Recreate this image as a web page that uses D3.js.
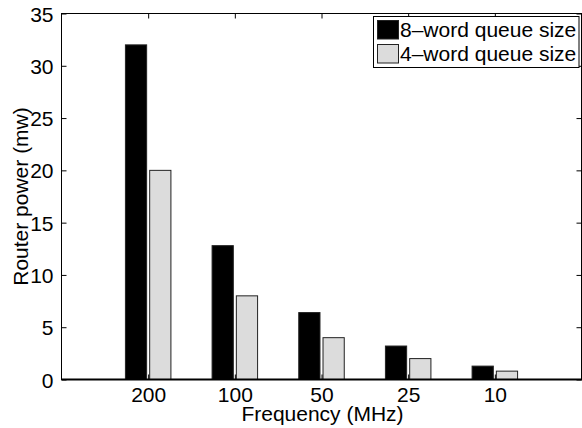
<!DOCTYPE html>
<html>
<head>
<meta charset="utf-8">
<script src="https://cdn.jsdelivr.net/npm/d3@7"></script>
<style>
  html, body { margin: 0; padding: 0; background: #fff; }
  svg { display: block; }
  text { font-family: "Liberation Sans", Arial, Helvetica, sans-serif; fill: #000; }
</style>
</head>
<body>
<svg id="chart" width="582" height="428"></svg>
<script>
const categories = ["200", "100", "50", "25", "10"];
const series8 = [32, 12.8, 6.4, 3.2, 1.28];
const series4 = [20, 8, 4, 2, 0.8];
const seriesNames = ["8\u2013word queue size", "4\u2013word queue size"];
const seriesColors = ["#000000", "#dcdcdc"];
const yTicks = [0, 5, 10, 15, 20, 25, 30, 35];

const svg = d3.select("#chart");
const margin = { left: 61.5, right: 581.5, top: 13.5, bottom: 379.5 };
const fs = 21;

const x = d3.scaleLinear().domain([0, categories.length + 1]).range([margin.left, margin.right]);
const y = d3.scaleLinear().domain([0, 35]).range([margin.bottom, margin.top]);

const barW = x(0.245) - x(0);
const offsets = [-0.14, 0.14];
const allSeries = [series8, series4];

// bars
allSeries.forEach((vals, si) => {
  svg.append("g").selectAll("rect").data(vals).join("rect")
    .attr("x", (d, i) => x(i + 1 + offsets[si]) - barW / 2)
    .attr("y", d => y(d))
    .attr("width", barW)
    .attr("height", d => y(0) - y(d))
    .attr("fill", seriesColors[si])
    .attr("stroke", "#222")
    .attr("stroke-width", 1);
});

// frame
svg.append("rect")
  .attr("x", margin.left).attr("y", margin.top)
  .attr("width", margin.right - margin.left).attr("height", margin.bottom - margin.top)
  .attr("fill", "none").attr("stroke", "#000").attr("stroke-width", 1);
// baseline
svg.append("line")
  .attr("x1", margin.left).attr("x2", margin.right + 1)
  .attr("y1", y(0)).attr("y2", y(0))
  .attr("stroke", "#000").attr("stroke-width", 2);

const tickLen = 5;
// left axis
const yAxisL = d3.axisLeft(y).tickValues(yTicks).tickSizeInner(-tickLen).tickSizeOuter(0).tickPadding(tickLen + 3);
const gL = svg.append("g").attr("transform", `translate(${margin.left},0)`).call(yAxisL);
gL.select(".domain").remove();
gL.selectAll("text").attr("font-size", fs).attr("font-family", "Liberation Sans, Arial, sans-serif").attr("dy", "0.36em");
// right axis
const yAxisR = d3.axisRight(y).tickValues(yTicks).tickSizeInner(-tickLen).tickSizeOuter(0).tickFormat("");
const gR = svg.append("g").attr("transform", `translate(${margin.right},0)`).call(yAxisR);
gR.select(".domain").remove();

// bottom axis
const xTickVals = categories.map((c, i) => i + 1);
const xAxisB = d3.axisBottom(x).tickValues(xTickVals).tickFormat((d, i) => categories[i])
  .tickSizeInner(-tickLen).tickSizeOuter(0).tickPadding(tickLen + 3);
const gB = svg.append("g").attr("transform", `translate(0,${margin.bottom})`).call(xAxisB);
gB.select(".domain").remove();
gB.selectAll("text").attr("font-size", fs).attr("font-family", "Liberation Sans, Arial, sans-serif");
// top axis
const xAxisT = d3.axisTop(x).tickValues(xTickVals).tickFormat("").tickSizeInner(-tickLen).tickSizeOuter(0);
const gT = svg.append("g").attr("transform", `translate(0,${margin.top})`).call(xAxisT);
gT.select(".domain").remove();

// axis labels
svg.append("text")
  .attr("x", (margin.left + margin.right) / 2 + 1).attr("y", 421)
  .attr("text-anchor", "middle").attr("font-size", fs)
  .text("Frequency (MHz)");
svg.append("text")
  .attr("transform", `translate(28,${(margin.top + margin.bottom) / 2}) rotate(-90)`)
  .attr("text-anchor", "middle").attr("font-size", fs)
  .text("Router power (mw)");

// legend
const leg = svg.append("g");
leg.append("rect")
  .attr("x", 373.5).attr("y", 16.5).attr("width", 205.5).attr("height", 51)
  .attr("fill", "#fff").attr("stroke", "#000").attr("stroke-width", 1);
seriesNames.forEach((name, i) => {
  const yy = 20.5 + i * 24;
  leg.append("rect")
    .attr("x", 377.5).attr("y", yy).attr("width", 21).attr("height", 18.5)
    .attr("fill", seriesColors[i]).attr("stroke", "#222").attr("stroke-width", 1);
  leg.append("text")
    .attr("x", 400).attr("y", yy + 16.5)
    .attr("font-size", fs)
    .text(name);
});
</script>
</body>
</html>
